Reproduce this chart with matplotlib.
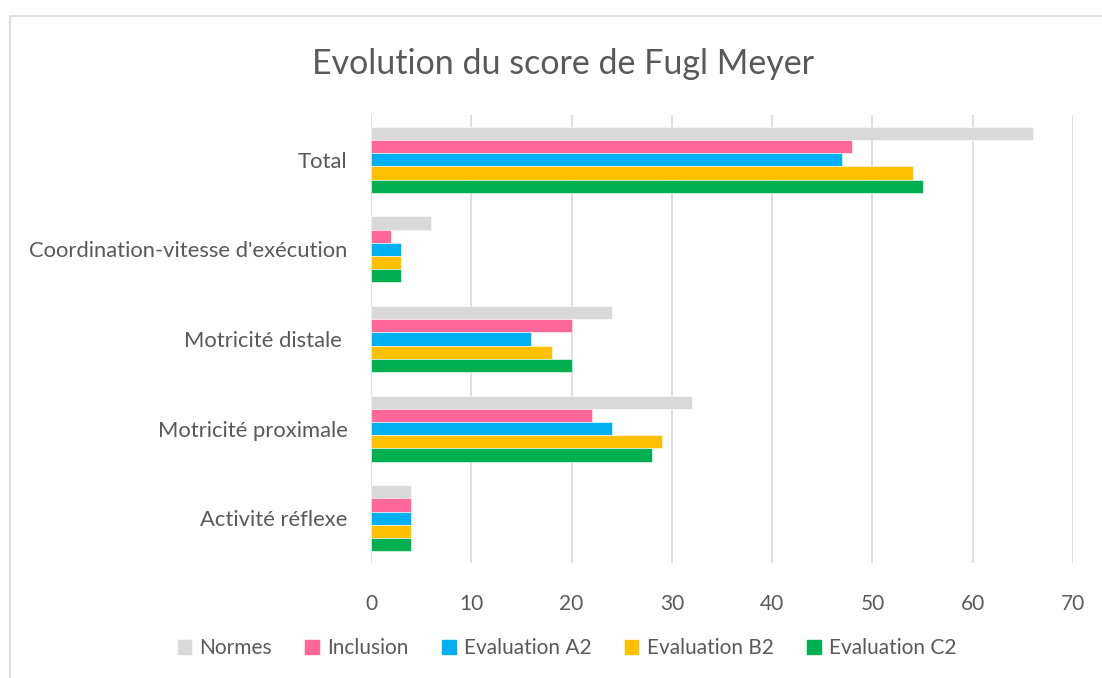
import matplotlib
matplotlib.use("Agg")
import matplotlib.pyplot as plt
import numpy as np
from matplotlib.lines import Line2D

plt.rcParams['font.family'] = ['Lato', 'DejaVu Sans']

categories = ["Total", "Coordination-vitesse d'exécution", "Motricité distale ",
              "Motricité proximale", "Activité réflexe"]
series_names = ["Normes", "Inclusion", "Evaluation A2", "Evaluation B2", "Evaluation C2"]
normes = [66, 6, 24, 32, 4]
inclusion = [48, 2, 20, 22, 4]
eval_a2 = [47, 3, 16, 24, 4]
eval_b2 = [54, 3, 18, 29, 4]
eval_c2 = [55, 3, 20, 28, 4]
colors = ["#D9D9D9", "#FF6699", "#00B0F0", "#FFC000", "#00B050"]
xticks = [0, 10, 20, 30, 40, 50, 60, 70]

W, H = 1102, 678
fig = plt.figure(figsize=(W/100, H/100), dpi=100)
ax = fig.add_axes([371/W, 1-563/H, (1073-371)/W, (563-115)/H])

data = [normes, inclusion, eval_a2, eval_b2, eval_c2]
n = len(series_names)
bh = 0.147
y = np.arange(len(categories))
for k, (vals, name, c) in enumerate(zip(data, series_names, colors)):
    off = (k - (n-1)/2) * bh
    ax.barh(y + off, vals, height=bh, color=c, label=name,
            edgecolor='white', linewidth=0.4, zorder=3)

ax.set_ylim(len(categories)-0.5, -0.5)
ax.set_xlim(0, 70)
ax.set_xticks(xticks)
ax.set_yticks(y)
ax.set_yticklabels(categories)
ax.tick_params(axis='both', length=0, labelsize=15, colors='#595959')
ax.tick_params(axis='y', pad=17, labelsize=15.8)
ax.tick_params(axis='x', pad=22)
ax.grid(axis='x', color='#D9D9D9', linewidth=1.2, zorder=0)
for s in ax.spines.values():
    s.set_visible(False)

fig.text(563/W, 1-64/H, "Evolution du score de Fugl Meyer", ha='center', va='center',
         fontsize=24.5, color='#595959')

handles = [plt.Rectangle((0, 0), 1, 1, color=c) for c in colors]
fig.legend(handles, series_names, loc='center', bbox_to_anchor=(567/W, 1-648/H),
           ncol=5, frameon=False, fontsize=15, labelcolor='#595959',
           handlelength=0.65, handleheight=0.65, handletextpad=0.4, columnspacing=1.6)

# chart border
fig.add_artist(Line2D([10/W, 10/W], [0, 1-16/H], color='#D9D9D9', linewidth=1.2))
fig.add_artist(Line2D([10/W, 1], [1-16/H, 1-16/H], color='#D9D9D9', linewidth=1.2))

fig.savefig("out.png", dpi=100)
